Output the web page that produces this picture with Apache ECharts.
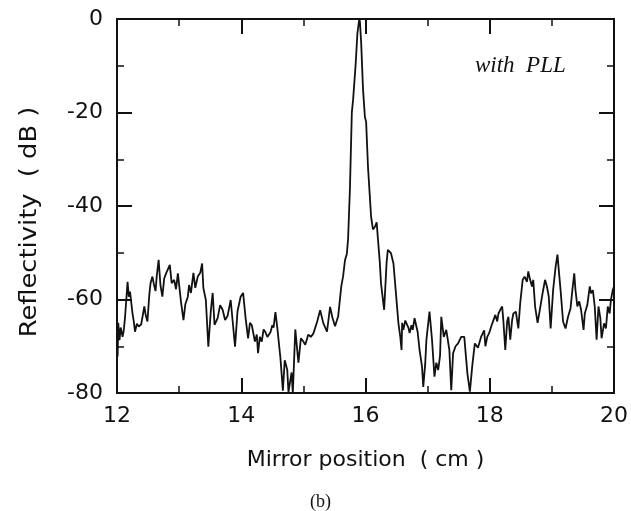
<!DOCTYPE html>
<html>
<head>
<meta charset="utf-8">
<script src="https://cdn.jsdelivr.net/npm/echarts@6/dist/echarts.min.js"></script>
<style>
html,body{margin:0;padding:0;background:#fff;}
#chart{width:631px;height:511px;}
</style>
</head>
<body>
<div id="chart"></div>
<script>
// Mirror position (cm)
var positions = [
12.00,12.01,12.02,12.04,12.06,12.09,12.11,12.13,12.15,12.17,12.19,12.21,12.23,12.25,12.27,12.29,12.32,12.35,12.39,12.42,
12.44,12.46,12.49,12.52,12.54,12.57,12.59,12.62,12.64,12.67,12.70,12.73,12.76,12.79,12.82,12.85,12.88,12.92,12.95,12.98,
13.03,13.07,13.10,13.14,13.16,13.19,13.23,13.26,13.30,13.34,13.37,13.39,13.43,13.47,13.51,13.54,13.57,13.62,13.66,13.70,
13.74,13.78,13.83,13.86,13.90,13.94,13.99,14.03,
14.07,14.11,14.14,14.17,14.22,14.25,14.27,14.30,14.33,14.36,14.39,14.42,14.47,14.50,14.52,14.55,14.58,14.63,14.67,14.70,
14.74,14.76,14.81,14.83,14.87,14.92,14.96,15.00,15.03,15.08,15.12,15.16,15.22,15.27,15.32,15.38,15.43,15.47,15.51,15.56,
15.61,15.64,15.67,15.70,15.72,
15.75,15.78,15.80,15.84,15.87,15.90,15.91,15.93,15.96,15.99,16.01,16.04,16.07,16.09,16.12,16.15,16.18,16.20,16.23,16.25,
16.30,16.34,16.36,16.41,16.45,16.49,16.53,16.56,16.58,16.59,16.61,16.64,16.66,16.69,16.71,16.74,16.76,16.79,16.82,16.84,
16.87,16.91,16.93,16.96,16.98,17.03,17.07,17.11,17.14,17.17,17.20,17.22,17.26,17.30,17.35,17.38,17.41,17.45,17.49,17.54,
17.59,17.64,17.68,17.72,17.76,17.81,17.86,17.91,17.93,17.96,17.99,18.03,18.06,18.09,18.12,18.14,18.17,18.20,18.22,18.25,
18.28,18.30,18.33,18.36,18.38,18.42,18.44,18.46,18.49,18.53,18.56,18.60,18.62,18.65,18.68,18.70,18.73,18.77,18.81,18.85,
18.89,18.92,18.95,18.98,19.02,19.06,19.09,19.11,19.14,19.18,19.22,19.26,19.30,19.33,19.36,19.38,19.41,19.44,19.47,19.51,
19.53,19.57,19.61,19.63,19.66,19.69,19.72,19.75,19.78,19.80,19.84,19.87,19.90,19.93,19.95,19.98,20.00
];
// Reflectivity (dB)
var reflectivity = [
-66.5,-72.2,-65,-68.7,-66,-68,-66.5,-63.7,-60,-56.2,-59.4,-58.3,-60.7,-63,-64.7,-66.9,-65.2,-65.8,-65.3,-63,
-61.5,-63.2,-64.7,-59,-56.5,-55.1,-56.5,-58.2,-55,-51.5,-57,-59.4,-55.5,-54.4,-54.8,-52.6,-56.5,-55.8,-57.8,-54.4,
-60.5,-64.4,-61,-59.4,-56.9,-58.6,-54.3,-57.5,-55.1,-54.3,-52.3,-57.5,-60.1,-70.1,-62.5,-58.6,-65.4,-64,-61.2,-62.2,
-64.4,-63.5,-60.1,-59.8,-70.1,-62.5,-59.4,-58.6,
-64,-68.3,-65,-65.5,-69,-67.5,-71.5,-68,-69,-66.4,-67,-68,-67,-65.5,-66,-62.7,-66,-72.4,-79.5,-73,
-75,-79.8,-75.6,-80,-66.4,-73.5,-68.3,-69,-69.7,-67.5,-68,-67.3,-64.8,-62.3,-65,-66.9,-61.6,-64,-65.7,-63.6,
-57.2,-55,-51.6,-50.2,-47,
-36,-20,-17.3,-10,-3,0,-0.6,-5,-15,-20.9,-22,-31.6,-38,-42.3,-45,-44.5,-43.5,-47,-52,-56.6,
-62.2,-52,-49.4,-50.1,-52.3,-58.7,-65.1,-68,-70.8,-65,-66.5,-64.5,-65.1,-66,-67.2,-65.5,-66.5,-64,-64.4,-67,
-70.8,-74.4,-78.7,-74,-68.7,-62.6,-68.5,-76.5,-73.5,-75.1,-72,-63.7,-68,-66.5,-70.8,-79.4,-71.5,-70,-69.4,-68,
-68,-75.8,-79.7,-74,-69.4,-70.3,-68,-66.6,-70,-68,-67.2,-65.5,-64.4,-63.3,-64.7,-63,-62.2,-61.5,-64.7,-70.8,
-64.7,-63.7,-68.6,-64.4,-63,-62.6,-64.4,-66.2,-60.8,-55.8,-55.1,-56.2,-54,-55.8,-57.2,-55.8,-61.5,-65,-61.9,-58.7,
-55.8,-57.2,-59.4,-66.2,-58,-53,-50.4,-53.5,-58,-64.7,-66.2,-63.7,-61.9,-58,-54.4,-58,-61.5,-60.4,-62.2,-66.5,
-63,-61.2,-57.2,-58.7,-58,-61.5,-68.6,-61.5,-64,-68.3,-65.1,-66.2,-61.5,-63,-60.1,-58,-57.2
];
var xTicks = [12, 14, 16, 18, 20];
var yTicks = [-80, -60, -40, -20, 0];

var chart = echarts.init(document.getElementById('chart'), null, {renderer: 'canvas'});
var seriesData = positions.map(function (p, i) { return [p, reflectivity[i]]; });

var labelFont = {color: '#111', fontFamily: 'DejaVu Sans', fontSize: 22};
var axisLineStyle = {color: '#111', width: 2};

function baseAxis(extra) {
  return Object.assign({
    type: 'value',
    axisLine: {show: true, onZero: false, lineStyle: axisLineStyle},
    axisTick: {show: true, inside: true, length: 15, lineStyle: {color: '#111', width: 2}},
    minorTick: {show: true, splitNumber: 2, length: 7, lineStyle: {color: '#111', width: 1.5}},
    splitLine: {show: false},
    minorSplitLine: {show: false}
  }, extra);
}

chart.setOption({
  animation: false,
  backgroundColor: '#fff',
  grid: {left: 117, top: 19, right: 13, bottom: 118, containLabel: false},
  xAxis: [
    baseAxis({
      position: 'bottom', min: xTicks[0], max: xTicks[xTicks.length - 1], interval: 2,
      axisLabel: Object.assign({margin: 12}, labelFont),
      name: 'Mirror position  ( cm )', nameLocation: 'middle', nameGap: 56,
      nameTextStyle: {color: '#111', fontFamily: 'DejaVu Sans', fontSize: 22}
    }),
    baseAxis({
      position: 'top', min: xTicks[0], max: xTicks[xTicks.length - 1], interval: 2,
      axisLabel: {show: false}
    })
  ],
  yAxis: [
    baseAxis({
      position: 'left', min: yTicks[0], max: yTicks[yTicks.length - 1], interval: 20,
      axisLabel: Object.assign({margin: 14}, labelFont)
    }),
    baseAxis({
      position: 'right', min: yTicks[0], max: yTicks[yTicks.length - 1], interval: 20,
      axisLabel: {show: false}
    })
  ],
  graphic: [
    {type: 'text', x: 30, y: 222, rotation: Math.PI / 2, scaleX: 1.12,
     style: {text: 'Reflectivity  ( dB )', font: '23px "DejaVu Sans"', fill: '#111',
             textAlign: 'center', textVerticalAlign: 'middle'}},
    {type: 'text', left: 475, top: 54,
     style: {text: 'with  PLL', font: 'italic 23px "Liberation Serif"', fill: '#111'}},
    {type: 'text', left: 310, top: 493,
     style: {text: '(b)', font: '18px "Liberation Serif"', fill: '#111'}}
  ],
  series: [{
    type: 'line', xAxisIndex: 0, yAxisIndex: 0,
    data: seriesData, showSymbol: false, symbol: 'none',
    lineStyle: {color: '#111', width: 1.8}
  }]
});
</script>
</body>
</html>
